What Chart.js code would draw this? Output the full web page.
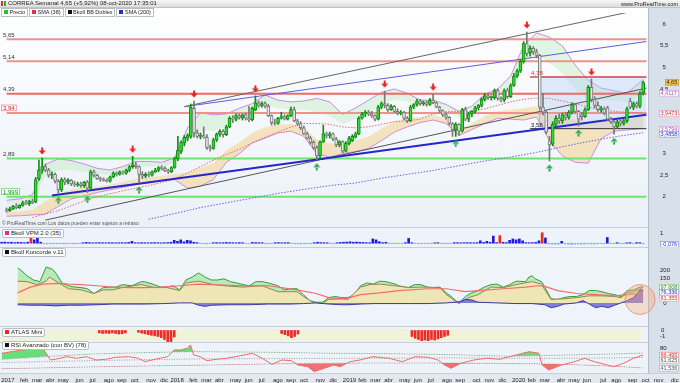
<!DOCTYPE html>
<html><head><meta charset="utf-8">
<script src="https://cdn.jsdelivr.net/npm/chart.js@4.4.1/dist/chart.umd.min.js"></script>
<style>
body{margin:0;width:680px;height:383px;overflow:hidden;background:#e6ebf1;font-family:"Liberation Sans",Arial,sans-serif;position:relative}
.bg{position:absolute}
canvas{position:absolute;left:0;z-index:2}
.lab{position:absolute;font:6px/7px "Liberation Sans",Arial,sans-serif;background:#fff;border:1px solid #b9bec6;border-radius:2px;padding:0 2px;color:#222;z-index:5;white-space:nowrap}
.lab i{display:inline-block;width:4px;height:4px;margin-right:2px;vertical-align:0}
.leg{position:absolute;left:1px;top:8px;display:flex;gap:1px;z-index:5}
.leg span{font:5.5px/7px "Liberation Sans",Arial,sans-serif;background:#fff;border:1px solid #b9bec6;padding:0 2px;color:#222;white-space:nowrap}
.leg i{display:inline-block;width:4px;height:4px;margin-right:1.5px;vertical-align:0}
.txt{position:absolute;z-index:6;white-space:nowrap;color:#222;font:6px/7px "Liberation Sans",Arial,sans-serif}
</style></head><body>
<div class="bg" style="left:0;top:0;width:680px;height:8px;background:linear-gradient(#f7f7f7,#dcdcdc);border-bottom:1px solid #c3c3c3;box-sizing:border-box"></div>
<div class="bg" style="left:0;top:8px;width:648px;height:219px;background:linear-gradient(#ffffff,#f4f7fb 55%,#ebf1f8)"></div>
<div class="bg" style="left:0;top:227px;width:648px;height:1px;background:#c5ced9"></div>
<div class="bg" style="left:0;top:228px;width:648px;height:19px;background:#eef3f9"></div>
<div class="bg" style="left:0;top:247px;width:648px;height:1px;background:#c5ced9"></div>
<div class="bg" style="left:0;top:248px;width:648px;height:78px;background:#eef4fa"></div>
<div class="bg" style="left:0;top:326px;width:648px;height:1px;background:#c5ced9"></div>
<div class="bg" style="left:0;top:327px;width:648px;height:15px;background:#eef3f9"></div>
<div class="bg" style="left:0;top:329px;width:641px;height:12px;background:#eef3da"></div>
<div class="bg" style="left:0;top:342px;width:648px;height:1px;background:#c5ced9"></div>
<div class="bg" style="left:0;top:343px;width:648px;height:30px;background:#eef3f9"></div>
<div class="bg" style="left:0;top:373px;width:680px;height:10px;background:#e4e9ef;border-top:1px solid #c5ced9;box-sizing:border-box"></div>
<div class="bg" style="left:648px;top:8px;width:32px;height:365px;background:#d8e0e9;border-left:1px solid #b3bdc9;box-sizing:border-box"></div>

<canvas id="cPrice" width="680" height="219" style="top:8px;width:680px;height:219px"></canvas>
<canvas id="cVpm" width="680" height="19" style="top:228px;width:680px;height:19px"></canvas>
<canvas id="cKon" width="680" height="78" style="top:248px;width:680px;height:78px"></canvas>
<canvas id="cAtl" width="680" height="15" style="top:327px;width:680px;height:15px"></canvas>
<canvas id="cRsi" width="680" height="30" style="top:343px;width:680px;height:30px"></canvas>
<canvas id="cAxis" width="680" height="17" style="top:366px;width:680px;height:17px;z-index:3"></canvas>

<div class="txt" style="left:1px;top:0px"><span style="display:inline-block;width:2px;height:5px;background:#e03030;margin-right:1px;vertical-align:-1px"></span><span style="display:inline-block;width:2px;height:5px;background:#2cb02c;margin-right:2px;vertical-align:-1px"></span>CORREA Semanal 4,65 (+5,92%) 08-oct-2020 17:35:01</div>
<div class="txt" style="right:2px;top:1px;font-size:5.5px">www.ProRealTime.com</div>
<div class="leg"><span><i style="background:#27c227"></i>Precio</span><span><i style="background:#e0304a"></i>SMA (38)</span><span><i style="background:#111"></i>Bkoll BB Doblex</span><span><i style="background:#2a2ad0"></i>SMA (200)</span></div>
<div class="txt" style="left:2px;top:220px;font-size:5px;color:#555">© ProRealTime.com Los datos pueden estar sujetos a retraso</div>
<div class="lab" style="left:2px;top:229px"><i style="background:#e0307a"></i>Bkoll VPM 2.0 (35)</div>
<div class="lab" style="left:2px;top:248px"><i style="background:#111"></i>Bkoll Koncorde v.11</div>
<div class="lab" style="left:2px;top:328px"><i style="background:#e02a2a"></i>ATLAS Mini</div>
<div class="lab" style="left:2px;top:341px"><i style="background:#111"></i>RSI Avanzado (con BV) (78)</div>

<script>
// ---------- categories ----------
const monthNames=['ene','feb','mar','abr','may','jun','jul','ago','sep','oct','nov','dic'];
const weeks=[];const t0=Date.UTC(2016,11,26);
for(let k=0;k<209;k++) weeks.push(new Date(t0+k*604800000).toISOString().slice(0,10));
const labelsMain=weeks.slice(0,199);

// ---------- weekly candles ----------
const open=[1.70,1.68,1.72,1.78,1.75,1.80,1.86,1.84,1.90,1.88,2.42,2.62,2.70,2.62,2.50,2.52,2.36,2.16,2.40,2.34,2.38,2.30,2.28,2.30,2.26,2.34,2.20,2.58,2.50,2.42,2.40,2.38,2.36,2.46,2.55,2.52,2.58,2.55,2.62,2.70,2.74,2.70,2.52,2.48,2.52,2.50,2.58,2.62,2.68,2.66,2.60,2.58,2.68,2.88,3.05,3.25,3.36,3.40,4.05,3.48,3.40,3.42,3.38,3.14,3.12,3.32,3.45,3.52,3.44,3.62,3.82,3.80,3.88,3.82,3.90,3.82,3.78,4.02,4.18,4.12,4.16,4.10,3.88,3.72,3.70,3.82,3.86,3.80,3.88,4.02,3.76,3.70,3.60,3.46,3.36,3.26,3.14,2.95,3.28,3.46,3.42,3.46,3.34,3.20,3.28,3.06,3.24,3.30,3.38,3.46,3.82,3.92,3.96,3.92,3.88,3.80,4.08,4.16,4.12,4.02,4.10,3.98,3.94,3.96,3.82,3.76,4.08,4.14,4.22,4.16,4.18,4.14,4.24,4.18,4.08,4.00,3.90,3.84,3.70,3.56,3.68,3.52,4.02,3.80,3.92,3.98,4.06,4.12,4.26,4.34,4.30,4.30,4.46,4.28,4.24,4.46,4.32,4.58,4.80,4.92,5.14,5.55,5.34,5.44,5.36,5.28,4.08,3.96,3.30,3.22,3.68,3.82,3.76,3.90,3.84,3.96,4.14,3.98,3.90,3.86,4.02,4.54,4.26,4.12,4.02,4.04,4.06,3.80,3.74,3.62,3.76,3.70,3.76,4.22,4.08,4.16,4.10,4.40];
const high=[1.74,1.76,1.80,1.84,1.82,1.90,1.92,1.92,1.95,2.45,2.85,2.90,2.76,2.66,2.58,2.55,2.40,2.44,2.44,2.42,2.40,2.36,2.34,2.34,2.36,2.38,2.62,2.62,2.52,2.46,2.44,2.42,2.48,2.58,2.58,2.60,2.60,2.64,2.72,2.94,2.80,2.72,2.58,2.56,2.58,2.60,2.66,2.70,2.72,2.70,2.64,2.70,2.92,3.40,3.30,3.42,3.46,4.15,4.22,3.55,3.48,3.62,3.44,3.20,3.36,3.48,3.56,3.56,3.66,3.86,3.88,3.92,3.92,3.92,3.94,4.10,4.08,4.34,4.22,4.20,4.20,4.14,3.90,3.80,3.84,3.96,3.90,3.90,4.08,4.08,3.80,3.74,3.64,3.50,3.40,3.30,3.18,3.30,3.66,3.50,3.50,3.48,3.38,3.30,3.30,3.28,3.40,3.44,3.50,3.86,3.96,4.00,4.00,3.98,3.90,4.12,4.20,4.45,4.16,4.14,4.12,4.04,4.00,3.98,3.86,4.12,4.16,4.26,4.26,4.22,4.22,4.28,4.38,4.20,4.10,4.02,3.94,3.86,3.72,3.72,3.70,4.05,4.08,3.96,4.00,4.10,4.14,4.30,4.40,4.38,4.34,4.50,4.50,4.32,4.50,4.52,4.62,4.86,4.96,5.18,5.60,5.82,5.50,5.48,5.42,5.30,4.40,4.00,3.40,3.74,3.88,3.92,3.94,3.96,4.00,4.18,4.16,4.00,3.96,4.06,4.58,4.73,4.32,4.20,4.10,4.08,4.10,3.84,3.78,3.78,3.80,3.80,4.08,4.28,4.20,4.20,4.44,4.68];
const low=[1.64,1.66,1.70,1.72,1.73,1.78,1.82,1.80,1.84,1.86,2.38,2.55,2.58,2.45,2.42,2.32,2.08,2.12,2.28,2.30,2.26,2.24,2.24,2.22,2.22,2.10,2.18,2.46,2.40,2.36,2.36,2.34,2.34,2.44,2.48,2.50,2.52,2.52,2.58,2.66,2.66,2.32,2.42,2.44,2.46,2.48,2.56,2.58,2.62,2.58,2.54,2.56,2.66,2.84,3.00,3.18,3.30,3.36,3.38,3.36,3.34,3.36,3.10,3.06,3.10,3.28,3.40,3.38,3.42,3.60,3.72,3.76,3.80,3.78,3.78,3.74,3.76,4.00,4.08,4.08,4.06,3.86,3.66,3.66,3.68,3.80,3.78,3.78,3.86,3.74,3.66,3.56,3.44,3.34,3.22,3.10,2.86,2.88,3.26,3.36,3.36,3.30,3.16,3.16,3.02,3.04,3.20,3.28,3.36,3.44,3.80,3.86,3.88,3.84,3.76,3.78,4.04,4.06,3.98,4.00,3.96,3.90,3.90,3.78,3.72,3.74,4.04,4.10,4.12,4.12,4.10,4.12,4.16,4.06,3.96,3.86,3.80,3.66,3.40,3.40,3.42,3.50,3.76,3.74,3.86,3.94,4.02,4.08,4.22,4.26,4.24,4.26,4.24,4.20,4.20,4.28,4.30,4.56,4.76,4.88,5.10,5.26,5.26,5.30,5.22,4.02,3.90,3.46,2.83,3.18,3.62,3.70,3.70,3.78,3.80,3.92,3.94,3.64,3.78,3.84,4.00,4.20,4.06,3.98,3.96,3.90,3.76,3.70,3.45,3.58,3.64,3.66,3.72,4.04,4.02,4.06,4.06,4.36];
const close=[1.68,1.72,1.78,1.75,1.80,1.86,1.84,1.90,1.87,2.40,2.62,2.70,2.62,2.50,2.52,2.36,2.16,2.40,2.34,2.38,2.30,2.28,2.30,2.26,2.34,2.20,2.58,2.50,2.42,2.40,2.38,2.36,2.46,2.55,2.52,2.58,2.55,2.62,2.70,2.74,2.70,2.52,2.48,2.52,2.50,2.58,2.62,2.68,2.66,2.60,2.58,2.68,2.90,3.08,3.27,3.38,3.42,4.08,3.48,3.40,3.42,3.38,3.14,3.12,3.32,3.45,3.52,3.44,3.62,3.82,3.80,3.88,3.84,3.90,3.82,3.78,4.05,4.18,4.12,4.16,4.10,3.88,3.72,3.70,3.82,3.86,3.80,3.88,4.02,3.76,3.70,3.60,3.46,3.36,3.26,3.14,2.95,3.27,3.46,3.42,3.46,3.34,3.20,3.28,3.06,3.24,3.36,3.40,3.46,3.82,3.92,3.96,3.92,3.88,3.80,4.08,4.16,4.12,4.02,4.10,3.98,3.94,3.96,3.82,3.76,4.08,4.14,4.22,4.16,4.18,4.14,4.24,4.18,4.08,4.00,3.90,3.84,3.70,3.56,3.68,3.52,4.02,3.80,3.92,3.98,4.06,4.12,4.26,4.34,4.30,4.32,4.46,4.28,4.24,4.46,4.32,4.58,4.80,4.92,5.14,5.55,5.32,5.44,5.36,5.28,4.08,3.96,3.50,3.20,3.68,3.82,3.76,3.90,3.84,3.96,4.14,3.98,3.80,3.86,4.02,4.54,4.26,4.12,4.02,4.04,3.94,3.80,3.74,3.62,3.74,3.70,3.76,4.04,4.08,4.16,4.10,4.39,4.65];
const downArrows=[11,39,58,77,117,132,161,181];
const upArrows=[16,25,41,96,139,168,177,188];

// ---------- price overlays [week index, value] ----------
const bbUp=[[0,1.92],[4,1.95],[8,2.05],[12,2.75],[16,2.88],[20,2.84],[24,2.76],[28,2.66],[32,2.62],[36,2.70],[40,2.82],[44,2.82],[48,2.80],[52,2.90],[56,3.60],[60,3.95],[64,3.90],[68,3.92],[72,4.05],[76,4.16],[80,4.36],[84,4.24],[88,4.20],[92,4.22],[96,4.28],[100,4.20],[104,3.91],[108,4.06],[112,4.24],[116,4.42],[120,4.50],[124,4.40],[128,4.24],[132,4.24],[136,4.14],[140,3.98],[144,4.10],[148,4.38],[152,4.50],[156,4.80],[160,5.50],[164,5.80],[168,5.70],[172,5.50],[176,5.05],[180,4.70],[184,4.52],[188,4.46],[192,4.40],[197,4.72]];
const bbUpInner=[[0,1.83],[4,1.85],[8,1.93],[12,2.46],[16,2.61],[20,2.62],[24,2.58],[28,2.52],[32,2.51],[36,2.58],[40,2.69],[44,2.70],[48,2.70],[52,2.78],[56,3.25],[60,3.53],[64,3.53],[68,3.64],[72,3.79],[76,3.93],[80,4.11],[84,4.05],[88,4.03],[92,4.02],[96,3.96],[100,3.88],[104,3.68],[108,3.81],[112,3.96],[116,4.14],[120,4.25],[124,4.21],[128,4.11],[132,4.13],[136,4.03],[140,3.84],[144,3.97],[148,4.21],[152,4.33],[156,4.57],[160,5.08],[164,5.33],[168,5.10],[172,4.86],[176,4.49],[180,4.22],[184,4.23],[188,4.23],[192,4.19],[197,4.4117]];
const bbLowInner=[[0,1.64],[4,1.66],[8,1.70],[12,1.89],[16,2.06],[20,2.17],[24,2.21],[28,2.24],[32,2.28],[36,2.34],[40,2.42],[44,2.45],[48,2.49],[52,2.53],[56,2.55],[60,2.68],[64,2.78],[68,3.08],[72,3.26],[76,3.48],[80,3.61],[84,3.67],[88,3.69],[92,3.61],[96,3.32],[100,3.24],[104,3.23],[108,3.30],[112,3.40],[116,3.58],[120,3.75],[124,3.82],[128,3.85],[132,3.90],[136,3.81],[140,3.56],[144,3.70],[148,3.87],[152,3.99],[156,4.02],[160,4.05],[164,4.10],[168,3.90],[172,3.85],[176,3.80],[180,3.75],[184,3.80],[188,3.82],[192,3.80],[197,3.86]];
const bbLow=[[0,1.55],[4,1.56],[8,1.58],[12,1.60],[16,1.78],[20,1.95],[24,2.02],[28,2.10],[32,2.16],[36,2.22],[40,2.28],[44,2.32],[48,2.38],[52,2.40],[56,2.20],[60,2.25],[64,2.40],[68,2.80],[72,3.00],[76,3.25],[80,3.36],[84,3.48],[88,3.52],[92,3.40],[96,3.00],[100,2.92],[104,3.00],[108,3.05],[112,3.12],[116,3.30],[120,3.50],[124,3.62],[128,3.72],[132,3.78],[136,3.70],[140,3.42],[144,3.56],[148,3.70],[152,3.82],[156,3.80],[160,3.78],[164,3.85],[168,3.30],[172,2.95],[176,2.80],[180,2.78],[184,3.35],[188,3.52],[192,3.55],[197,3.5794]];
const sma38=[[8,1.52],[12,1.60],[16,1.68],[20,1.79],[24,1.90],[28,2.00],[32,2.07],[36,2.14],[40,2.20],[44,2.26],[48,2.33],[52,2.42],[56,2.55],[60,2.70],[64,2.85],[68,2.98],[72,3.10],[76,3.25],[80,3.38],[84,3.50],[88,3.62],[92,3.70],[96,3.70],[100,3.68],[104,3.62],[108,3.60],[112,3.62],[116,3.68],[120,3.74],[124,3.76],[128,3.80],[132,3.92],[136,3.98],[140,3.98],[144,3.98],[148,4.04],[152,4.12],[156,4.20],[160,4.26],[164,4.29],[168,4.28],[172,4.22],[176,4.16],[180,4.08],[184,4.02],[188,3.98],[192,3.96],[197,3.9473]];
const sma200=[[44,1.48],[52,1.61],[60,1.75],[68,1.86],[76,1.97],[84,2.08],[92,2.17],[100,2.26],[108,2.32],[116,2.43],[124,2.52],[132,2.61],[140,2.72],[148,2.83],[156,2.92],[164,3.03],[172,3.16],[180,3.28],[188,3.39],[197,3.4858]];
const trendBlueThick=[[14,2.03],[198,3.90]];
const trendBlackLow=[[12,1.46],[198,4.52]];
const trendBlackHigh=[[55,4.09],[198,6.37]];
const trendBlueHigh=[[55,4.09],[198,5.60]];
const hLines=[5.65,5.14,4.39,3.94,2.89,1.999];
const zoneTop=4.78, zoneBottom=3.58, zoneStart=165, levelStart=162;

// ---------- sub panels ----------
const vpm=[0.10,0.12,0.08,0.10,0.06,0.10,0.08,0.05,0.10,0.90,0.35,0.55,0.10,-0.06,-0.08,-0.05,-0.07,-0.06,-0.05,-0.08,-0.06,-0.05,-0.07,-0.06,-0.05,0.05,0.08,0.06,0.04,0.05,0.06,0.05,0.04,0.06,0.05,0.04,0.05,0.06,0.05,0.08,0.20,0.05,0.04,0.06,0.05,0.04,0.05,0.06,0.05,0.04,0.05,0.06,0.10,0.30,0.20,0.35,0.15,0.30,0.25,0.10,0.06,-0.05,-0.06,-0.08,-0.05,0.05,0.06,0.04,0.05,0.08,0.06,0.05,0.04,0.06,0.05,-0.05,-0.04,0.08,0.06,0.05,0.05,-0.06,-0.07,-0.05,0.05,0.06,0.04,0.05,0.06,-0.05,-0.06,-0.07,-0.08,-0.06,-0.05,-0.07,0.05,0.10,0.06,0.05,0.04,-0.05,-0.06,0.05,0.08,0.10,0.12,0.15,0.10,0.12,0.10,0.08,0.06,0.05,0.45,0.35,0.15,0.06,0.10,-0.05,-0.06,-0.05,-0.04,-0.06,0.05,0.50,0.05,-0.05,-0.06,-0.05,-0.04,-0.05,-0.06,0.04,0.05,-0.05,-0.06,-0.07,-0.05,0.06,0.05,0.04,0.05,0.06,0.05,0.04,0.06,0.25,0.08,0.20,0.10,0.75,0.06,0.80,0.10,0.06,0.30,0.45,0.35,0.45,0.25,0.06,0.05,0.06,0.08,0.25,1.10,0.55,-0.08,-0.10,-0.12,-0.10,0.20,-0.08,-0.12,-0.15,-0.10,-0.08,-0.12,-0.10,-0.06,-0.08,-0.10,-0.06,-0.05,-0.06,0.60,-0.05,-0.04,0.05,-0.05,-0.06,0.04,0.05,-0.04,0.06,0.05,-0.076];
const vpmRed=[9,153,166];
const konGreen=[[0,211],[1,200],[3,164],[5,139],[7,129],[9,218],[11,204],[12,182],[14,121],[16,104],[18,96],[20,93],[22,86],[24,57],[25,68],[27,93],[29,96],[31,96],[33,111],[36,104],[39,129],[40,129],[43,111],[45,96],[47,96],[49,104],[51,79],[53,139],[55,157],[57,182],[59,157],[61,139],[63,139],[65,146],[67,129],[69,121],[71,111],[73,104],[75,129],[77,129],[79,121],[82,104],[84,79],[86,86],[88,86],[90,50],[92,14],[94,4],[96,4],[98,32],[100,39],[102,32],[104,32],[106,50],[108,104],[110,121],[112,114],[114,132],[116,129],[119,114],[120,104],[123,93],[125,111],[127,111],[129,96],[131,93],[133,96],[135,61],[137,32],[139,-4],[141,39],[143,61],[145,75],[147,96],[149,111],[151,114],[153,96],[155,111],[157,132],[160,129],[161,157],[162,164],[163,146],[165,129],[166,96],[168,25],[170,21],[172,32],[174,39],[176,39],[178,50],[180,75],[182,75],[184,68],[186,57],[188,50],[190,39],[192,75],[194,79],[196,96],[197,97.608]];
const konTan=[[0,132],[3,129],[6,111],[9,132],[10,157],[13,121],[16,86],[20,79],[24,57],[27,79],[30,79],[33,93],[39,111],[43,93],[47,93],[51,75],[53,121],[57,132],[61,114],[65,104],[71,96],[77,104],[82,68],[88,68],[90,39],[93,4],[96,-4],[98,21],[102,25],[104,21],[108,96],[111,111],[114,114],[119,104],[123,93],[127,96],[133,93],[135,50],[139,-4],[142,32],[145,50],[149,96],[153,93],[157,111],[162,129],[165,114],[166,79],[168,21],[172,25],[176,32],[180,43],[184,43],[188,39],[190,32],[192,61],[194,68],[197,94]];
const konBlue=[[0,-11],[4,-14],[8,-14],[12,-18],[16,-14],[20,-14],[25,-11],[30,-7],[36,-7],[40,-7],[46,-4],[51,0],[55,0],[57,-14],[59,-21],[61,-14],[67,-11],[73,-11],[79,-7],[86,-7],[90,-4],[94,0],[98,-7],[102,-11],[104,-11],[108,-7],[112,-4],[116,-4],[123,-4],[129,-4],[135,0],[139,7],[141,21],[143,18],[145,4],[151,0],[157,-4],[162,-4],[166,-11],[168,-29],[170,-21],[172,-7],[176,0],[178,14],[180,-7],[182,-29],[184,-21],[186,-29],[188,-14],[190,0],[192,14],[194,32],[196,79],[197,76.336]];
const konRed=[[0,61],[4,96],[8,114],[13,118],[16,114],[20,111],[25,104],[30,96],[36,93],[40,93],[45,96],[51,104],[57,114],[61,111],[71,104],[79,104],[88,79],[94,57],[98,32],[102,25],[104,29],[108,50],[114,61],[120,75],[129,86],[135,86],[141,68],[145,75],[153,86],[160,96],[164,104],[166,100],[170,75],[176,57],[182,50],[188,43],[192,50],[197,61.355]];
const konCircle=[[196,21]];
const atlas=[[30,-0.4],[31,-0.5],[32,-0.45],[33,-0.5],[34,-0.4],[35,-0.5],[36,-0.6],[37,-0.55],[38,-0.4],[42,-0.3],[43,-0.45],[44,-0.55],[45,-0.7],[46,-0.8],[47,-0.9],[48,-1.0],[49,-1.2],[50,-1.5],[51,-1.9],[52,-1.85],[53,-1.1],[86,-0.5],[87,-0.7],[88,-0.9],[89,-1.2],[90,-1.0],[91,-0.6],[126,-1.0],[127,-1.3],[128,-1.5],[129,-1.7],[130,-1.6],[131,-1.7],[132,-1.5],[133,-1.6],[134,-1.4],[135,-1.2],[136,-1.0],[137,-0.8]];
const rsi=[[0,69.8],[3,72.9],[6,76.2],[9,77.5],[12,80],[13,76],[15,56.9],[18,60.2],[20,63.3],[23,60.2],[26,63.3],[29,56.9],[32,58.2],[35,62.1],[39,63.3],[42,60.2],[44,53.7],[47,58.2],[51,63.3],[53,76.2],[55,76.2],[57,79.4],[58,85.8],[59,66.5],[61,63.3],[63,55.6],[66,58.2],[69,60.2],[73,64.6],[77,69.8],[80,60.2],[83,48.5],[86,56.9],[89,55.6],[91,47.3],[94,44.1],[96,34.4],[99,40.9],[102,47.3],[104,44.1],[107,53.7],[110,56.9],[114,63.3],[119,60.2],[123,53.7],[127,63.3],[131,62.1],[134,56.9],[136,47.3],[138,40.9],[141,50.6],[145,56.9],[149,60.2],[153,58.2],[156,63.3],[160,69.8],[162,72.9],[165,69.8],[166,47.3],[168,37.7],[172,47.3],[176,53.7],[179,60.2],[182,53.7],[186,47.3],[188,44.1],[191,50.6],[194,60.2],[197,66.495]];
const rsiUpper=[[0,58],[15,64],[30,69],[50,72],[60,73],[80,72],[100,70],[120,69],[140,67],[156,64],[170,66],[185,68],[197,70.21]];
const rsiMid=[[0,52],[30,56],[60,59],[100,60],[140,61],[170,60],[197,61.625]];
const rsiLower=[[0,40],[30,44],[60,47],[90,50],[110,51],[140,51],[170,49],[188,45],[197,41.536]];

// ---------- helpers ----------
Chart.defaults.font.family='"Liberation Sans", Arial, sans-serif';
Chart.defaults.font.size=6;
Chart.defaults.color='#222';
Chart.defaults.animation=false;
Chart.defaults.responsive=false;
Chart.defaults.maintainAspectRatio=false;
Chart.defaults.events=[];
Chart.defaults.plugins.legend.display=false;
Chart.defaults.plugins.tooltip.enabled=false;

const pts=a=>a.map(([i,v])=>({x:weeks[i],y:v}));
const fmt=(v,d)=>(d==null?String(v):v.toFixed(d)).replace('.',',');
const L=(data,color,w,extra)=>Object.assign({type:'line',data:pts(data),borderColor:color,borderWidth:w,pointRadius:0,fill:false,tension:0,order:10},extra||{});
const xS=()=>({type:'category',offset:true,display:false,grid:{display:false}});
function yS(min,max,ticks){return {position:'right',min,max,grid:{display:false,drawTicks:false},border:{display:false},
  afterFit(s){s.width=32;s.paddingTop=0;s.paddingBottom=0;},
  afterBuildTicks(s){s.ticks=ticks.map(v=>({value:v}));},
  ticks:{padding:12,crossAlign:'center',autoSkip:false,font:{size:6},color:'#222',callback:v=>fmt(v)}};}
function drawBoxes(chart,list,gap){
  const ctx=chart.ctx,ys=chart.scales.y;ctx.save();
  ctx.font='5.5px "Liberation Sans", Arial, sans-serif';ctx.textBaseline='middle';ctx.textAlign='left';
  const it=list.map(b=>Object.assign({},b,{py:ys.getPixelForValue(b.v)})).sort((a,b)=>a.py-b.py);
  for(let k=1;k<it.length;k++) if(it[k].py-it[k-1].py<gap) it[k].py=it[k-1].py+gap;
  it.forEach(b=>{const w=Math.ceil(ctx.measureText(b.t).width)+3,x=679-w,y=Math.round(b.py)-3;
    ctx.fillStyle=b.bg;ctx.fillRect(x,y,w,6.5);ctx.strokeStyle=b.bd;ctx.lineWidth=0.7;ctx.strokeRect(x+0.35,y+0.35,w-0.7,5.8);
    ctx.fillStyle=b.fg;ctx.fillText(b.t,x+1.5,y+3.4);});
  ctx.restore();
}
function arrowImg(color,down){const c=document.createElement('canvas');c.width=8;c.height=22;const g=c.getContext('2d');g.fillStyle=color;g.beginPath();
  if(down){g.rect(3,0.5,2,3.5);g.moveTo(0.5,3.5);g.lineTo(7.5,3.5);g.lineTo(4,7.5);g.closePath();}
  else{g.rect(3,18,2,3.5);g.moveTo(0.5,18.5);g.lineTo(7.5,18.5);g.lineTo(4,14.5);g.closePath();}
  g.fill();return c;}
const last=a=>a[a.length-1][1];

// ---------- price chart ----------
const up=close.map((c,i)=>c>=open[i]);
const hStyle=[{c:'#f29090',t:'#333'},{c:'#f29090',t:'#333'},{c:'#ec6a6a',t:'#333'},{c:'#f29090',t:'#d02020',box:'#ee8a8a'},{c:'#6ee46e',t:'#333'},{c:'#6ee46e',t:'#1d7a1d',box:'#5ad65a'}];
const priceSets=[
  L(bbUp,'#c98ae0',1,{fill:'+1',backgroundColor:'rgba(198,238,198,0.5)',order:30}),
  L(bbUpInner,'rgba(0,0,0,0)',0,{order:30}),
  L(bbLowInner,'rgba(0,0,0,0)',0,{fill:'+1',backgroundColor:'rgba(244,214,150,0.6)',order:30}),
  L(bbLow,'#d08ad8',1,{order:29}),
  L([[zoneStart,zoneTop],[198,zoneTop]],'rgba(120,150,230,0.7)',1,{fill:'+1',backgroundColor:'rgba(178,204,246,0.38)',order:28}),
  L([[zoneStart,zoneBottom],[198,zoneBottom]],'rgba(120,150,230,0.5)',1,{order:28}),
  L([[zoneStart,zoneBottom],[zoneStart,zoneTop]],'rgba(120,150,230,0.7)',1,{order:28}),
];
hLines.forEach((v,k)=>priceSets.push(L([[0,v],[198,v]],hStyle[k].c,2,{order:20})));
priceSets.push(
  L(sma38,'#e36a6a',1,{borderDash:[1.5,1.5],order:9}),
  L(sma200,'#6464e0',1,{borderDash:[1.5,1.5],order:9}),
  L(trendBlueThick,'#2626d0',2,{order:8}),
  L(trendBlackLow,'#555',1,{order:8}),
  L(trendBlackHigh,'#666',1,{order:8}),
  L(trendBlueHigh,'#5c5ce8',1,{order:8}),
  L([[levelStart,zoneTop],[198,zoneTop]],'#e84848',1.5,{order:8}),
  L([[levelStart,zoneBottom],[198,zoneBottom]],'#3a3a3a',1,{order:8}),
  {type:'bar',data:low.map((l,i)=>[l,high[i]]),backgroundColor:up.map(u=>u?'#128a12':'#777'),barThickness:1,grouped:false,order:3},
  {type:'bar',data:open.map((o,i)=>[o,close[i]]),backgroundColor:up.map(u=>u?'#33dd33':'#e6e6e6'),borderColor:up.map(u=>u?'#128a12':'#777'),borderWidth:1,borderSkipped:false,barThickness:3,minBarLength:1,grouped:false,order:2},
  {type:'line',showLine:false,data:downArrows.map(i=>({x:weeks[i],y:high[i]})),pointStyle:arrowImg('#e8231f',true),pointRadius:3,order:0},
  {type:'line',showLine:false,data:upArrows.map(i=>({x:weeks[i],y:low[i]})),pointStyle:arrowImg('#2fa84f',false),pointRadius:3,order:0}
);
const priceBoxes=[
  {v:close[close.length-1],t:fmt(close[close.length-1],2),fg:'#222',bg:'#f2c84a',bd:'#c99a20'},
  {v:last(bbUpInner),t:fmt(last(bbUpInner),4),fg:'#b04fc0',bg:'#fff',bd:'#cf98de'},
  {v:last(sma38),t:fmt(last(sma38),4),fg:'#d02a2a',bg:'#fff',bd:'#e89090'},
  {v:last(bbLow),t:fmt(last(bbLow),4),fg:'#b04fc0',bg:'#fff',bd:'#cf98de'},
  {v:last(sma200),t:fmt(last(sma200),4),fg:'#2a2acc',bg:'#fff',bd:'#8a8ade'}];
new Chart(document.getElementById('cPrice'),{type:'bar',data:{labels:labelsMain,datasets:priceSets},
  options:{devicePixelRatio:1,layout:{padding:0},scales:{x:xS(),y:yS(1.4155,6.261,[2,2.5,3,4.5,5,5.5,6])}},
  plugins:[{id:'pd',afterDatasetsDraw(chart){
    const ctx=chart.ctx,ys=chart.scales.y,xs=chart.scales.x;ctx.save();
    ctx.font='6px "Liberation Sans", Arial, sans-serif';ctx.textBaseline='alphabetic';ctx.textAlign='left';
    hLines.forEach((v,k)=>{const py=ys.getPixelForValue(v),t=fmt(v),s=hStyle[k],w=ctx.measureText(t).width;
      if(s.box){ctx.fillStyle='#fff';ctx.fillRect(1,py-8.5,w+4,6.5);ctx.strokeStyle=s.box;ctx.lineWidth=0.8;ctx.strokeRect(1.4,py-8.1,w+3.2,5.7);}
      ctx.fillStyle=s.t;ctx.fillText(t,3,py-2.8);});
    const lx=xs.getPixelForValue(levelStart);
    ctx.fillStyle='#e03030';ctx.fillText(fmt(zoneTop),lx+1,ys.getPixelForValue(zoneTop)-2);
    ctx.fillStyle='#222';ctx.fillText(fmt(zoneBottom),lx+1,ys.getPixelForValue(zoneBottom)-2);
    ctx.restore();},
    afterDraw(chart){drawBoxes(chart,priceBoxes,5.2);}}]});

// ---------- VPM ----------
new Chart(document.getElementById('cVpm'),{type:'bar',data:{labels:labelsMain,datasets:[
  {data:vpm,backgroundColor:vpm.map((v,i)=>vpmRed.includes(i)?'#f02a10':(v<0?'#8fb0ee':'#1c1ce0')),barThickness:2}]},
  options:{devicePixelRatio:1,scales:{x:xS(),y:yS(-0.4,1.6,[1])}},
  plugins:[{id:'vb',afterDraw(c){drawBoxes(c,[{v:vpm[vpm.length-1],t:fmt(vpm[vpm.length-1],3),fg:'#2a2acc',bg:'#fff',bd:'#8a8ade'}],6);}}]});

// ---------- Koncorde ----------
new Chart(document.getElementById('cKon'),{type:'line',data:{labels:labelsMain,datasets:[
  L(konGreen,'#3a9a3a',1,{fill:'origin',backgroundColor:'rgba(172,232,172,0.85)',order:5}),
  L(konTan,'#968650',1,{fill:'origin',backgroundColor:'#efe5b6',order:4}),
  L(konBlue,'#3a3aa8',1,{fill:'origin',backgroundColor:'rgba(112,104,216,0.85)',order:3}),
  L(konRed,'#f06e6e',1.2,{order:2}),
  {type:'line',showLine:false,data:pts(konCircle),pointRadius:15,pointBackgroundColor:'rgba(245,170,130,0.35)',pointBorderColor:'rgba(232,140,100,0.8)',pointBorderWidth:1,clip:false,order:1}]},
  options:{devicePixelRatio:1,scales:{x:xS(),y:yS(-43,236,[0,150,200])}},
  plugins:[{id:'kb',afterDraw(c){drawBoxes(c,[
    {v:last(konGreen),t:fmt(last(konGreen),3),fg:'#2a8a2a',bg:'#fff',bd:'#7acc7a'},
    {v:last(konBlue),t:fmt(last(konBlue),3),fg:'#2a2acc',bg:'#fff',bd:'#8a8ade'},
    {v:last(konRed),t:fmt(last(konRed),3),fg:'#d02a2a',bg:'#fff',bd:'#e89090'}],5.5);}}]});

// ---------- ATLAS ----------
new Chart(document.getElementById('cAtl'),{type:'bar',data:{labels:labelsMain,datasets:[
  {data:pts(atlas),backgroundColor:'#ee2a2a',barThickness:2}]},
  options:{devicePixelRatio:1,scales:{x:xS(),y:yS(-1.92,0.58,[0,-1])}}});

// ---------- RSI ----------
new Chart(document.getElementById('cRsi'),{type:'line',data:{labels:labelsMain,datasets:[
  L(rsiUpper,'#9a9a9a',1,{borderDash:[1,1.5],order:6}),
  L(rsiMid,'#9a9a9a',1,{borderDash:[1,1.5],order:6}),
  L(rsiLower,'#9a9a9a',1,{borderDash:[1,1.5],order:6}),
  L(rsi,'#f06a6a',1,{fill:{target:0,above:'rgba(70,215,90,0.8)',below:'rgba(0,0,0,0)'},order:2}),
  L(rsi,'rgba(0,0,0,0)',0,{fill:{target:2,above:'rgba(0,0,0,0)',below:'rgba(240,80,80,0.8)'},order:3})]},
  options:{devicePixelRatio:1,scales:{x:xS(),y:yS(31.9,89.6,[80])}},
  plugins:[{id:'rb',afterDraw(c){drawBoxes(c,[
    {v:last(rsi),t:fmt(last(rsi),3),fg:'#d02a2a',bg:'#fff',bd:'#e89090'},
    {v:last(rsiMid),t:fmt(last(rsiMid),3),fg:'#555',bg:'#fff',bd:'#aaa'},
    {v:last(rsiLower),t:fmt(last(rsiLower),3),fg:'#555',bg:'#fff',bd:'#aaa'}],5.2);}}]});

// ---------- time axis ----------
new Chart(document.getElementById('cAxis'),{type:'line',data:{labels:weeks,datasets:[]},
  options:{devicePixelRatio:1,layout:{padding:0},scales:{
    x:{type:'category',offset:true,grid:{display:false,drawTicks:false},border:{display:false},
      afterFit(s){s.paddingLeft=0;s.paddingRight=0;},
      ticks:{autoSkip:false,maxRotation:0,minRotation:0,labelOffset:3,padding:2,font:{size:6},color:'#222',
        callback(v){const d=new Date(this.getLabelForValue(v)+'T00:00:00Z');if(d.getUTCDate()>7)return null;
          return d.getUTCMonth()===0?String(d.getUTCFullYear()):monthNames[d.getUTCMonth()];}}},
    y:{display:false}}}});
</script>
</body></html>
